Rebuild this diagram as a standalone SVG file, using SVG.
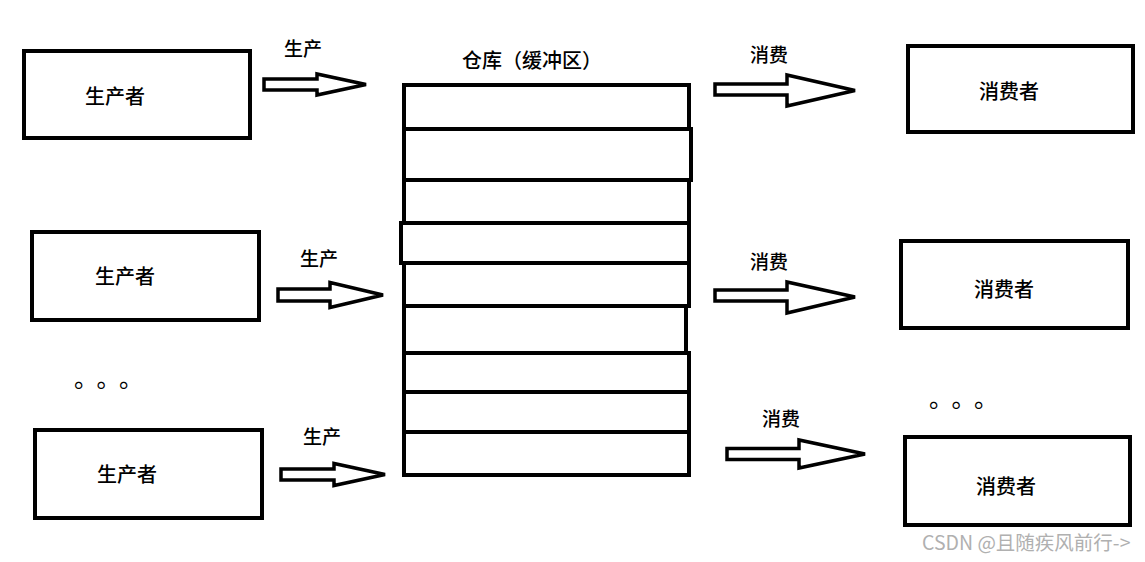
<svg xmlns="http://www.w3.org/2000/svg" width="1145" height="562" viewBox="0 0 1145 562">
<style>
.box{fill:#fff;stroke:#000;stroke-width:4}
.cell{fill:none;stroke:#000;stroke-width:4}
.arr{fill:#fff;stroke:#000;stroke-width:3.5;stroke-linejoin:miter}
.t{font-family:"Noto Sans CJK SC","Noto Sans",sans-serif;font-size:20px;fill:#000;font-weight:500}
.lbl{font-family:"Noto Sans CJK SC","Noto Sans",sans-serif;font-size:19px;fill:#000;font-weight:500}
.dots{font-family:"Noto Sans CJK SC",sans-serif;font-size:24px;fill:#000;letter-spacing:10.5px}
.wm{font-family:"Noto Sans CJK SC","Noto Sans",sans-serif;font-size:19.5px;fill:#b0b0b0}
</style>
<rect width="1145" height="562" fill="#fff"/>
<g id="producer1"><rect class="box" x="24" y="51" width="226" height="87"/><text class="t" x="115" y="104" text-anchor="middle">生产者</text></g>
<g id="producer2"><rect class="box" x="32" y="232" width="227" height="88"/><text class="t" x="125" y="284" text-anchor="middle">生产者</text></g>
<g id="producer3"><rect class="box" x="35" y="430" width="227" height="88"/><text class="t" x="127" y="482" text-anchor="middle">生产者</text></g>
<g id="consumer1"><rect class="box" x="908" y="46" width="225" height="86"/><text class="t" x="1009" y="99" text-anchor="middle">消费者</text></g>
<g id="consumer2"><rect class="box" x="901" y="241" width="227" height="87"/><text class="t" x="1004" y="297" text-anchor="middle">消费者</text></g>
<g id="consumer3"><rect class="box" x="905" y="437" width="225" height="88"/><text class="t" x="1006" y="494" text-anchor="middle">消费者</text></g>
<g id="warehouse">
<text class="t" x="462" y="68">仓库（缓冲区）</text>
<rect class="cell" x="404" y="85" width="285" height="44"/>
<rect class="cell" x="404" y="129" width="287" height="51"/>
<rect class="cell" x="404" y="180" width="285" height="43"/>
<rect class="cell" x="401" y="223" width="288" height="40"/>
<rect class="cell" x="404" y="263" width="285" height="43"/>
<rect class="cell" x="404" y="306" width="282" height="47"/>
<rect class="cell" x="404" y="353" width="285" height="39"/>
<rect class="cell" x="404" y="392" width="285" height="40"/>
<rect class="cell" x="404" y="432" width="285" height="43"/>
</g>
<g id="connectors">
<path class="arr" d="M264,79 L317,79 L317,74 L366,84.5 L317,95 L317,90 L264,90 Z"/>
<path class="arr" d="M278,289 L330,289 L330,282.5 L383,295 L330,307.5 L330,301 L278,301 Z"/>
<path class="arr" d="M281,469 L334,469 L334,463.5 L385,474.5 L334,485.5 L334,480 L281,480 Z"/>
<path class="arr" d="M715,84 L787,84 L787,75 L855,90.5 L787,106 L787,95 L715,95 Z"/>
<path class="arr" d="M715,290 L787,290 L787,282 L855,297 L787,313 L787,301 L715,301 Z"/>
<path class="arr" d="M727,448.5 L799,448.5 L799,440 L865,454 L799,468 L799,459.5 L727,459.5 Z"/>
</g>
<g id="labels">
<text class="lbl" x="303" y="56" text-anchor="middle">生产</text>
<text class="lbl" x="319" y="266" text-anchor="middle">生产</text>
<text class="lbl" x="322" y="444" text-anchor="middle">生产</text>
<text class="lbl" x="769" y="62" text-anchor="middle">消费</text>
<text class="lbl" x="769" y="269" text-anchor="middle">消费</text>
<text class="lbl" x="781" y="426" text-anchor="middle">消费</text>
</g>
<text id="dots-left" class="dots" x="74" y="387">。。。</text>
<text id="dots-right" class="dots" x="929" y="407">。。。</text>
<text class="wm" x="922" y="550">CSDN @且随疾风前行-&gt;</text>
</svg>
